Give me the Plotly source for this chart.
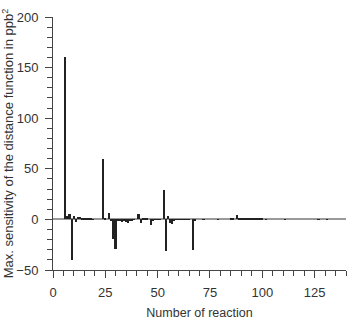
import plotly.graph_objects as go

# Reaction numbers and their max. sensitivity values (ppb^2)
reactions = [6, 7, 8, 9, 10, 11, 12, 13, 14, 15, 16, 17, 18, 19,
             24, 25, 27, 28, 29, 30, 31, 32, 33, 34, 35, 36, 37, 38, 39,
             41, 42, 43, 44, 45, 47, 48, 49, 50, 51,
             53, 54, 55, 56, 57, 58, 59, 60, 61, 62, 63, 64, 65,
             67, 68, 72, 79, 85, 86, 88, 89, 90, 91, 92, 93, 94, 95, 96, 97, 98,
             99, 100, 102, 111, 127, 131]
sensitivity = [160, 3, 5, -40, 3, -3, 2, 2, 1, 1, 0.5, 1, 0.5, 0.3,
               60, 0.5, 6, -1, -19, -29, -1, -2, -3, -2, -3, -4, -1, -1, -0.5,
               5, -4, 1, 0.5, 0.5, -6, -1, -0.5, -0.5, -0.5,
               29, -31, 3, -4, -5, -2, -0.4, -0.3, 0.3, -0.3, 0.3, -0.3, 0.3,
               -30, -1, 0.4, 0.4, 0.5, 0.5, 4, 0.6, 0.6, 0.6, 0.6, 0.6, 0.6, 0.6, 0.6, 0.6, 0.6,
               0.6, 0.5, 0.4, 0.4, 0.4, 0.4]

x_ticks = [0, 25, 50, 75, 100, 125]
y_ticks = [-50, 0, 50, 100, 150, 200]

fig = go.Figure()
fig.add_trace(go.Bar(
    x=reactions, y=sensitivity, width=0.8,
    marker=dict(color="#222222", line=dict(width=0)),
))

fam = "Liberation Sans, Arial, sans-serif"
tick_font = dict(family=fam, size=13, color="#333333")
xtitle_font = dict(family=fam, size=12.5, color="#333333")
ytitle_font = dict(family=fam, size=13, color="#333333")

fig.update_layout(
    width=347, height=320,
    margin=dict(l=53, r=1, t=17, b=50),
    paper_bgcolor="white", plot_bgcolor="white",
    showlegend=False,
    font=tick_font,
    bargap=0,
    xaxis=dict(
        range=[0, 140], tickvals=x_ticks, ticks="outside", ticklen=7,
        tickcolor="#444444", tickwidth=1, ticklabelstandoff=3,
        minor=dict(dtick=5, tick0=0, ticks="outside", ticklen=5, tickcolor="#444444"),
        showline=True, linecolor="#444444", linewidth=1,
        showgrid=False, zeroline=False,
        title=dict(text="Number of reaction", font=xtitle_font, standoff=10),
        tickfont=tick_font,
    ),
    yaxis=dict(
        range=[-50, 200], tickvals=y_ticks, ticks="outside", ticklen=7,
        tickcolor="#444444", tickwidth=1, ticklabelstandoff=4,
        minor=dict(dtick=10, tick0=0, ticks="outside", ticklen=5, tickcolor="#444444"),
        showline=True, linecolor="#444444", linewidth=1,
        showgrid=False, zeroline=True, zerolinecolor="#999999", zerolinewidth=1.5,
        title=dict(text="Max. sensitivity of the distance function in ppb<sup>2</sup>",
                   font=ytitle_font, standoff=2),
        tickfont=tick_font,
    ),
)

fig.write_html("out.html")
